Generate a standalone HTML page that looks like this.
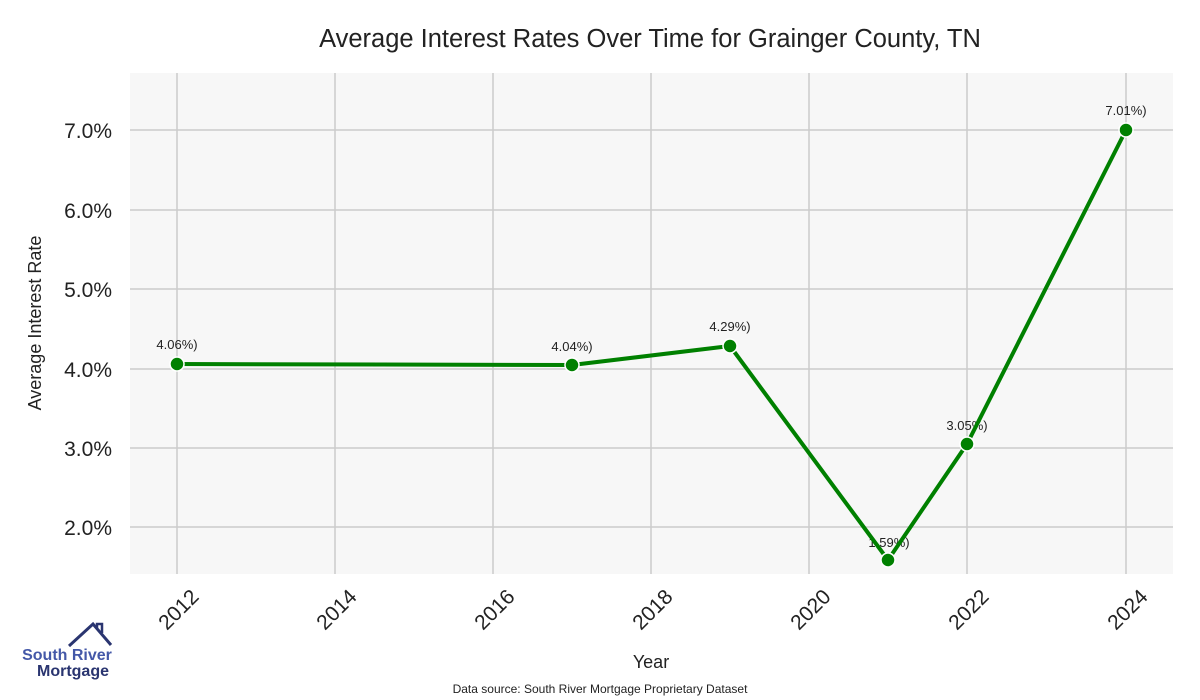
<!DOCTYPE html>
<html><head><meta charset="utf-8"><style>body{margin:0;background:#fff}svg{display:block}text{font-family:"Liberation Sans",sans-serif}</style></head><body>
<svg width="1200" height="700" viewBox="0 0 1200 700">
<rect x="130" y="73" width="1043" height="501" fill="#f7f7f7"/>
<g stroke="#cccccc" stroke-width="1.5">
<line x1="177" y1="73" x2="177" y2="574"/><line x1="335" y1="73" x2="335" y2="574"/><line x1="493" y1="73" x2="493" y2="574"/><line x1="651" y1="73" x2="651" y2="574"/><line x1="809" y1="73" x2="809" y2="574"/><line x1="967" y1="73" x2="967" y2="574"/><line x1="1126" y1="73" x2="1126" y2="574"/>
<line x1="130" y1="130" x2="1173" y2="130"/><line x1="130" y1="210" x2="1173" y2="210"/><line x1="130" y1="289" x2="1173" y2="289"/><line x1="130" y1="369" x2="1173" y2="369"/><line x1="130" y1="448" x2="1173" y2="448"/><line x1="130" y1="527" x2="1173" y2="527"/>
</g>
<text x="650" y="47" font-size="25.5" text-anchor="middle" fill="#222">Average Interest Rates Over Time for Grainger County, TN</text>
<g font-size="21" fill="#222" text-anchor="end">
<text x="112" y="138">7.0%</text><text x="112" y="218">6.0%</text><text x="112" y="297">5.0%</text><text x="112" y="377">4.0%</text><text x="112" y="456">3.0%</text><text x="112" y="535">2.0%</text>
</g>
<text transform="translate(41,323) rotate(-90)" font-size="18" text-anchor="middle" fill="#222">Average Interest Rate</text>
<g font-size="21" fill="#222" text-anchor="end">
<text transform="translate(200,598) rotate(-45)">2012</text>
<text transform="translate(358,598) rotate(-45)">2014</text>
<text transform="translate(516,598) rotate(-45)">2016</text>
<text transform="translate(674,598) rotate(-45)">2018</text>
<text transform="translate(832,598) rotate(-45)">2020</text>
<text transform="translate(990,598) rotate(-45)">2022</text>
<text transform="translate(1149,598) rotate(-45)">2024</text>
</g>
<text x="651" y="668" font-size="18" text-anchor="middle" fill="#222">Year</text>
<text x="600" y="693" font-size="12" text-anchor="middle" fill="#222">Data source: South River Mortgage Proprietary Dataset</text>
<g font-size="13" fill="#222" text-anchor="middle">
<text x="177" y="349">4.06%)</text><text x="572" y="351">4.04%)</text><text x="730" y="331">4.29%)</text><text x="889" y="547">1.59%)</text><text x="967" y="430">3.05%)</text><text x="1126" y="115">7.01%)</text>
</g>
<polyline points="177,364 572,365 730,346 888,560 967,444 1126,130" fill="none" stroke="#008000" stroke-width="4" stroke-linejoin="round"/>
<g fill="#008000" stroke="#fff" stroke-width="1.5">
<circle cx="177" cy="364" r="7"/><circle cx="572" cy="365" r="7"/><circle cx="730" cy="346" r="7"/><circle cx="888" cy="560" r="7"/><circle cx="967" cy="444" r="7"/><circle cx="1126" cy="130" r="7"/>
</g>
<polyline points="69,646 93,624 111,645" fill="none" stroke="#2a3570" stroke-width="3"/>
<polyline points="97,628 97,624 102,624 102,633" fill="none" stroke="#2a3570" stroke-width="2.5"/>
<text x="67" y="660" font-size="16" font-weight="bold" fill="#4458a8" text-anchor="middle">South River</text>
<text x="73" y="676" font-size="16" font-weight="bold" fill="#2a3570" text-anchor="middle">Mortgage</text>
</svg>
</body></html>
